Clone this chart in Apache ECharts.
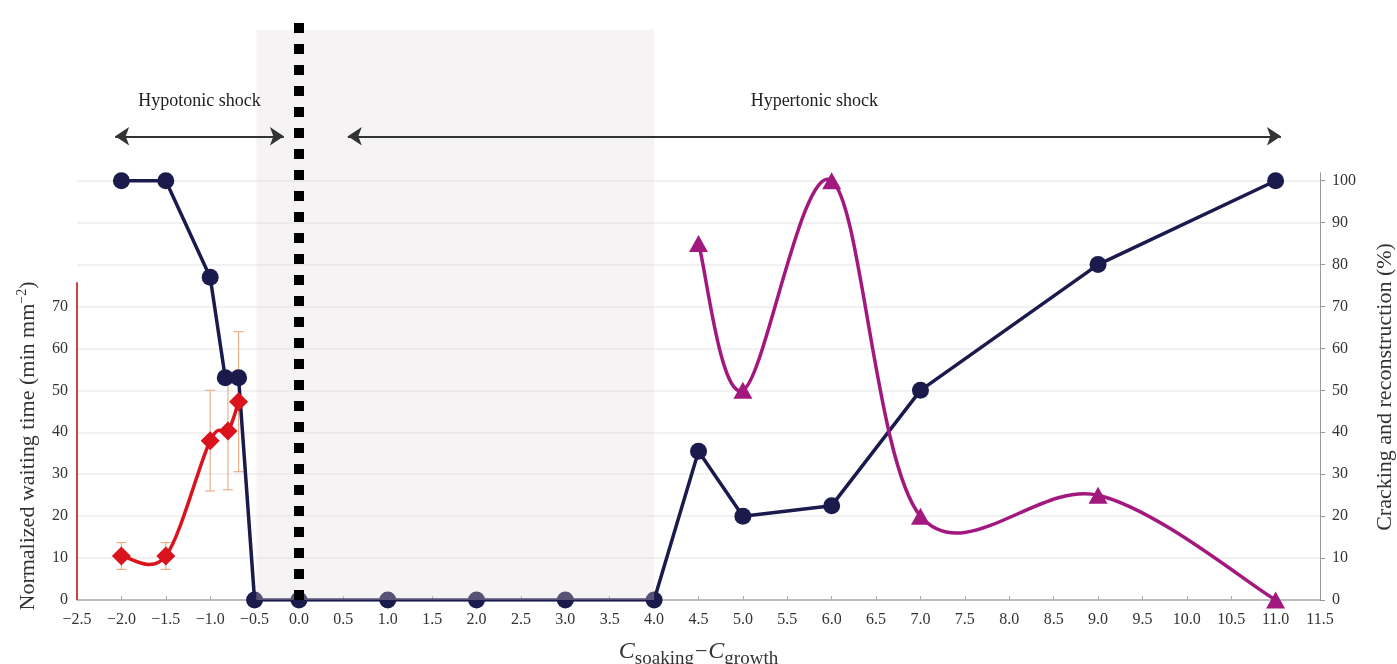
<!DOCTYPE html>
<html>
<head>
<meta charset="utf-8">
<script src="https://cdn.jsdelivr.net/npm/echarts@6/dist/echarts.min.js"></script>
<style>
html, body { margin: 0; padding: 0; background: #fff; }
#chart { width: 1397px; height: 664px; }
</style>
</head>
<body>
<div id="chart"></div>
<script>
// navy circles - cracking and reconstruction (%)
var crackX = [-2.0, -1.5, -1.0, -0.83, -0.68, -0.5, 0, 1, 2, 3, 4, 4.5, 5, 6, 7, 9, 11];
var crackY = [100, 100, 77, 53, 53, 0, 0, 0, 0, 0, 0, 35.5, 20, 22.5, 50, 80, 100];
// magenta triangles (right axis)
var triX = [4.5, 5, 6, 7, 9, 11];
var triY = [85, 50, 100, 20, 25, 0];
// red diamonds - normalized waiting time, with error bars
var waitX = [-2.0, -1.5, -1.0, -0.8, -0.68];
var waitY = [10.5, 10.5, 38, 40.3, 47.3];
var waitErr = [3.2, 3.2, 12, 14, 16.7];

var leftTicks = [0, 10, 20, 30, 40, 50, 60, 70];
var rightTicks = [0, 10, 20, 30, 40, 50, 60, 70, 80, 90, 100];

// annotations
var hypoArrow = [-2.07, -0.17];
var hyperArrow = [0.55, 11.06];
var arrowY = 110.6;
var shadeRange = [-0.48, 4.0];
var shadeTop = 136;

var serif = 'Liberation Serif';
var txt = '#333';
var navy = '#1b1a4c', magenta = '#a3187f', red = '#d9141c';

function pairs(xs, ys) {
  return xs.map(function (x, i) { return [x, ys[i]]; });
}

// smooth curve through the points (Catmull-Rom style, like the spreadsheet's smoothed line)
function smoothCurve(xs, ys, yAxisIndex, color, z) {
  return {
    type: 'custom',
    yAxisIndex: yAxisIndex,
    z: z,
    silent: true,
    data: pairs(xs, ys),
    encode: { x: 0, y: 1 },
    renderItem: function (params, api) {
      var i = params.dataIndex;
      var n = xs.length;
      if (i >= n - 1) return null;
      var P = function (k) {
        k = Math.max(0, Math.min(n - 1, k));
        return api.coord([xs[k], ys[k]]);
      };
      var p0 = P(i - 1), p1 = P(i), p2 = P(i + 1), p3 = P(i + 2);
      return {
        type: 'bezierCurve',
        shape: {
          x1: p1[0], y1: p1[1], x2: p2[0], y2: p2[1],
          cpx1: p1[0] + (p2[0] - p0[0]) / 6, cpy1: p1[1] + (p2[1] - p0[1]) / 6,
          cpx2: p2[0] - (p3[0] - p1[0]) / 6, cpy2: p2[1] - (p3[1] - p1[1]) / 6
        },
        style: { stroke: color, lineWidth: 3.5, fill: 'none', lineCap: 'round' }
      };
    }
  };
}

var chart = echarts.init(document.getElementById('chart'));

var gridColors = [];
for (var i = 0; i <= 14; i++) gridColors.push(i <= 10 ? '#ececec' : 'rgba(0,0,0,0)');

var option = {
  backgroundColor: '#fff',
  animation: false,
  grid: { left: 77, right: 77, top: 13, bottom: 64, outerBoundsMode: 'none', containLabel: false },
  xAxis: {
    type: 'value',
    min: -2.5,
    max: 11.5,
    interval: 0.5,
    axisLine: { lineStyle: { color: '#aaa', width: 1.5 } },
    axisTick: { inside: true, length: 4, lineStyle: { color: '#aaa' } },
    splitLine: { show: false },
    axisLabel: {
      color: txt, fontSize: 16, fontFamily: serif, margin: 12,
      formatter: function (v) {
        if (Math.abs(v) < 1e-9) v = 0;
        return v.toFixed(1).replace('-', '\u2212');
      }
    },
    name: '{c|C}{s|soaking}{m|\u2212}{c|C}{s|growth}',
    nameLocation: 'middle',
    nameGap: 35,
    nameTextStyle: {
      rich: {
        c: { fontFamily: serif, fontStyle: 'italic', fontSize: 24, color: txt, lineHeight: 32 },
        s: { fontFamily: serif, fontSize: 19, color: txt, padding: [15, 0, 0, 0] },
        m: { fontFamily: serif, fontSize: 22, color: txt, padding: [0, 1, 0, 1] }
      }
    }
  },
  yAxis: [
    {
      type: 'value', min: 0, max: 140, interval: 10, position: 'left',
      axisLine: { show: false },
      axisTick: { show: false },
      splitLine: { show: false },
      axisLabel: {
        customValues: leftTicks,
        color: txt, fontSize: 16, fontFamily: serif, margin: 9,
        formatter: function (v) { return v <= 70 ? String(v) : ''; }
      }
    },
    {
      type: 'value', min: 0, max: 140, interval: 10, position: 'right',
      axisLine: { show: false },
      axisTick: { show: true, customValues: rightTicks, length: 5, lineStyle: { color: '#999' } },
      splitLine: { show: true, lineStyle: { color: gridColors, width: 1.5 } },
      axisLabel: {
        customValues: rightTicks,
        color: txt, fontSize: 16, fontFamily: serif, margin: 12,
        formatter: function (v) { return v <= 100 ? String(v) : ''; }
      }
    }
  ],
  graphic: [
    {
      type: 'text', x: 28, y: 446, rotation: Math.PI / 2,
      style: {
        text: '{n|Normalized waiting time (min mm}{s|\u22122}{n|)}',
        align: 'center', verticalAlign: 'middle',
        rich: {
          n: { fontFamily: serif, fontSize: 22, fill: txt, lineHeight: 28 },
          s: { fontFamily: serif, fontSize: 14, fill: txt, padding: [0, 0, 12, 0] }
        }
      }
    },
    {
      type: 'text', x: 1385, y: 387, rotation: Math.PI / 2,
      style: {
        text: 'Cracking and reconstruction (%)',
        align: 'center', verticalAlign: 'middle',
        fontFamily: serif, fontSize: 22, fill: txt
      }
    }
  ],
  series: [
    {
      // error bars
      type: 'custom',
      yAxisIndex: 0,
      z: 1,
      silent: true,
      data: waitX.map(function (x, i) { return [x, waitY[i] - waitErr[i], waitY[i] + waitErr[i]]; }),
      encode: { x: 0, y: [1, 2] },
      renderItem: function (params, api) {
        var x = api.value(0);
        var lo = api.coord([x, api.value(1)]);
        var hi = api.coord([x, api.value(2)]);
        var w = 5;
        var st = { stroke: '#eab08a', lineWidth: 1.2 };
        return {
          type: 'group',
          children: [
            { type: 'line', shape: { x1: lo[0], y1: lo[1], x2: hi[0], y2: hi[1] }, style: st },
            { type: 'line', shape: { x1: lo[0] - w, y1: lo[1], x2: lo[0] + w, y2: lo[1] }, style: st },
            { type: 'line', shape: { x1: hi[0] - w, y1: hi[1], x2: hi[0] + w, y2: hi[1] }, style: st }
          ]
        };
      }
    },
    {
      name: 'Cracking and reconstruction',
      type: 'line',
      yAxisIndex: 1,
      z: 2,
      data: pairs(crackX, crackY),
      symbol: 'circle',
      symbolSize: 17,
      lineStyle: { color: navy, width: 3.5 },
      itemStyle: { color: navy },
      markLine: {
        silent: true, symbol: 'none', label: { show: false },
        lineStyle: { color: '#999', width: 1, type: 'solid' },
        data: [[{ coord: [11.5, 0] }, { coord: [11.5, 102] }]]
      }
    },
    smoothCurve(triX, triY, 1, magenta, 3),
    {
      name: 'Triangles',
      type: 'scatter',
      yAxisIndex: 1,
      z: 4,
      data: pairs(triX, triY),
      symbol: 'triangle',
      symbolSize: [19, 17],
      itemStyle: { color: magenta, opacity: 1 }
    },
    smoothCurve(waitX, waitY, 0, red, 5),
    {
      name: 'Normalized waiting time',
      type: 'scatter',
      yAxisIndex: 0,
      z: 6,
      data: pairs(waitX, waitY),
      symbol: 'diamond',
      symbolSize: 19,
      itemStyle: { color: red, opacity: 1 },
      markLine: {
        silent: true, symbol: 'none', label: { show: false },
        lineStyle: { color: '#c9473d', width: 2, type: 'solid' },
        data: [[{ coord: [-2.5, 0] }, { coord: [-2.5, 75.8] }]]
      }
    },
    {
      // shaded region, drawn over the lines
      type: 'line',
      yAxisIndex: 1,
      z: 10,
      data: [],
      markArea: {
        silent: true,
        z: 10,
        itemStyle: { color: 'rgba(225,216,219,0.3)' },
        data: [[{ coord: [shadeRange[0], 0] }, { coord: [shadeRange[1], shadeTop] }]]
      },
      markLine: {
        silent: true,
        z: 11,
        symbol: ['arrow', 'arrow'],
        symbolSize: 14,
        lineStyle: { color: '#333', width: 2, type: 'solid' },
        label: {
          show: true, position: 'middle', distance: 26,
          color: '#222', fontFamily: serif, fontSize: 18,
          formatter: function (p) { return p.name; }
        },
        data: [
          [{ name: 'Hypotonic shock', coord: [hypoArrow[0], arrowY] }, { coord: [hypoArrow[1], arrowY] }],
          [{ name: 'Hypertonic shock', coord: [hyperArrow[0], arrowY] }, { coord: [hyperArrow[1], arrowY] }]
        ]
      }
    },
    {
      // dotted boundary at zero
      type: 'line',
      yAxisIndex: 1,
      z: 12,
      data: [],
      markLine: {
        silent: true,
        z: 12,
        symbol: 'none',
        label: { show: false },
        lineStyle: { color: '#000', width: 10, type: [10, 11], cap: 'butt' },
        data: [[{ coord: [0, 0] }, { coord: [0, 140] }]]
      }
    }
  ]
};

chart.setOption(option);
</script>
</body>
</html>
